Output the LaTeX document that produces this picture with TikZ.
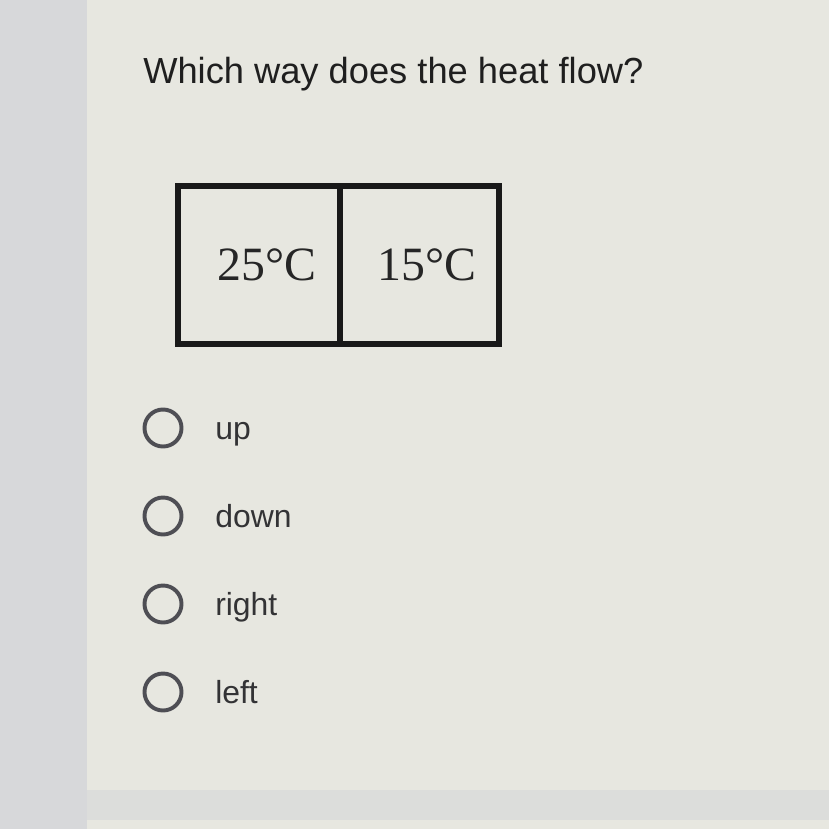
\documentclass[tikz,border=0pt]{standalone}
\usepackage{fontspec}
\setmainfont{Liberation Sans}
\newfontfamily\cellfont{Liberation Serif}
\usetikzlibrary{positioning}

\definecolor{screen}{HTML}{E7E7E0}
\definecolor{sidebar}{HTML}{D7D8DA}
\definecolor{footer}{HTML}{DCDDDB}
\definecolor{radiogray}{HTML}{4E4E54}
\definecolor{inkgray}{HTML}{333335}

\begin{document}
\begin{tikzpicture}[x=0.025cm,y=-0.025cm,
    cell/.style={draw=black!90,line width=4.2pt,minimum height=3.95cm,inner sep=0pt,outer sep=0pt},
    temp/.style={font=\cellfont\fontsize{34}{34}\selectfont,text=black!85,anchor=base,inner sep=0pt},
    radio/.style={circle,draw=radiogray,line width=2.8pt,minimum size=0.925cm,inner sep=0pt},
    choice/.style={font=\fontsize{22.7}{24}\selectfont,text=inkgray,anchor=base west,inner sep=0pt}]
  % page
  \useasboundingbox (0,0) rectangle (829,829);
  \fill[screen] (0,0) rectangle (829,829);
  \fill[sidebar] (0,0) rectangle (87,829);
  \fill[footer] (87,790) rectangle (829,820);
  % question
  \node[anchor=base west,inner sep=0pt,text=black!88,font=\fontsize{25.8}{28}\selectfont] (question) at (143,83) {Which way does the heat flow?};
  % the two blocks
  \node[cell,minimum width=4.05cm] (warm) at (259,265) {};
  \node[cell,minimum width=3.975cm] (cool) at (419.5,265) {};
  \node[temp] (warmt) at (267,280) {25°C};
  \node[temp] (coolt) at (427,280) {15°C};
  % answers
  \foreach \y/\txt [count=\i] in {428/up,516/down,604/right,692/left}
  {
    \node[radio] (radio\i) at (163,\y) {};
    \node[choice] (choice\i) at (215,\y+11) {\txt};
  }
\end{tikzpicture}
\end{document}
